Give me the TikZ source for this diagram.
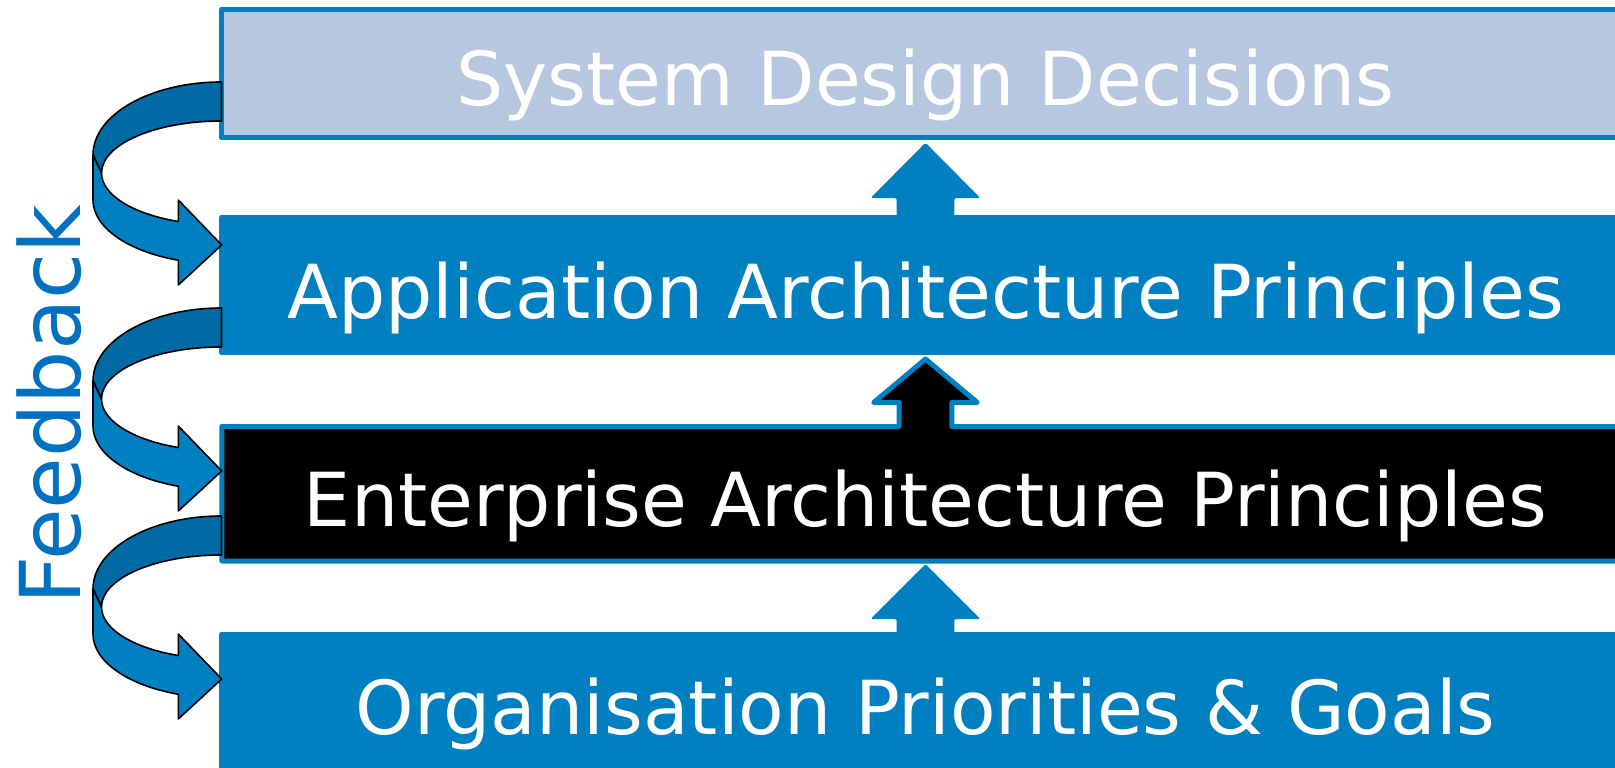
\documentclass[tikz,border=0pt]{standalone}
\usepackage{fontspec}
\setmainfont{DejaVu Sans}
\definecolor{layerblue}{RGB}{0,128,192}
\definecolor{layerlight}{RGB}{184,199,224}
\definecolor{bandblue}{RGB}{0,106,164}
\definecolor{feedblue}{RGB}{0,112,192}
\tikzset{
	layertext/.style={text=white, anchor=base, font=\fontsize{74.5}{80}\selectfont},
	layerline/.style={line width=5pt, draw=layerblue, line join=round},
	bandline/.style={draw=black, line width=1.6pt, line join=round},
}

\begin{document}
\begin{tikzpicture}[x=1pt, y=-1pt]
			%%%%% START %%%%%
			\useasboundingbox (0,0) rectangle (1615,768);
			\clip (0,0) rectangle (1615,768);
			
			\draw[layerline, fill=layerlight] (221.8, 9.5) rectangle (1640, 137.5);
			\draw[layerline, fill=layerblue] (221.8, 217.5) rectangle (1640, 352.5);
			\draw[layerline, fill=layerblue] (221.8, 634) rectangle (1640, 790);
			
			% black layer with its arrow
			\draw[layerline, fill=black] (221.8, 561) -- (221.8, 426.5) -- (899.2, 426.5) -- (899.2, 402.5) -- (873.7, 402.5) -- (925.5, 359) -- (977.3, 402.5) -- (951.8, 402.5) -- (951.8, 426.5) -- (1640, 426.5) -- (1640, 561) -- cycle;
			
			\fill[layerblue, rounded corners=1.5pt] (896.7, 220) -- (896.7, 198) -- (870.7, 198) -- (925.5, 142.7) -- (980.3, 198) -- (954.3, 198) -- (954.3, 220) -- cycle;
			\fill[layerblue, rounded corners=1.5pt] (896.7, 640) -- (896.7, 619) -- (870.7, 619) -- (925.5, 564) -- (980.3, 619) -- (954.3, 619) -- (954.3, 640) -- cycle;
			
			% feedback arrows
			\foreach \dy in {0, 226, 434} {
				\begin{scope}[shift={(0,\dy)}]
					\filldraw[bandline, fill=bandblue] (93,155) arc[start angle=180, end angle=270, x radius=128.5, y radius=73] -- (221.5,121) arc[start angle=270, end angle=180, x radius=120, y radius=52] -- cycle;
					\filldraw[bandline, fill=layerblue] (93,155) -- (93,200) arc[start angle=180, end angle=109.6, x radius=128.5, y radius=64] -- (178.3,285) -- (221.7,245) -- (178.3,200) -- (178.3,221.5) arc[start angle=111.1, end angle=180, x radius=120, y radius=52] -- cycle;
				\end{scope}
			}
			
			\node[layertext] (sysdec) at (925.5,106) {System Design Decisions};
			\node[layertext] (apparch) at (925.5,318) {Application Architecture Principles};
			\node[layertext] (entarch) at (925.5,526) {Enterprise Architecture Principles};
			\node[layertext] (orggoal) at (925.5,734) {Organisation Priorities \& Goals};
			
			\node[text=feedblue, rotate=90, anchor=base, font=\fontsize{84}{90}\selectfont] (feedback) at (80,404.5) {Feedback};
			%%%%% END %%%%%
\end{tikzpicture}
\end{document}
